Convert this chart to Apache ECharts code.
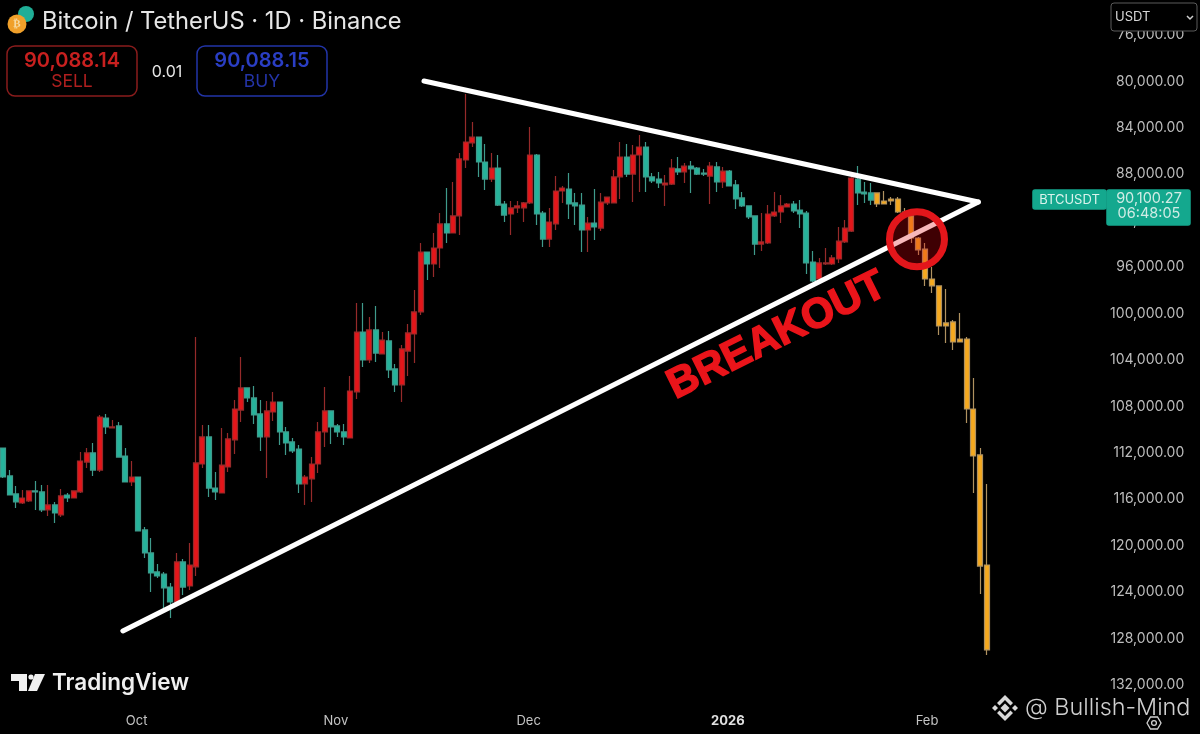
<!DOCTYPE html>
<html><head><meta charset="utf-8">
<style>html,body{margin:0;padding:0;background:#000}#c{width:1200px;height:734px}</style>
<script src="https://cdn.jsdelivr.net/npm/echarts@6/dist/echarts.min.js"></script>
</head><body><div id="c"></div>
<script>
const opens=[111580,113990,115540,116320,116140,115280,115370,116920,116490,117350,115630,115890,115370,112790,112010,113480,109000,109860,109680,112270,114510,114080,118640,120620,122260,122440,123560,124850,121400,123470,121830,112960,110630,115030,115460,113220,110890,108310,106410,107270,108650,110630,108480,107620,110200,111060,111670,114680,114250,112960,110200,108390,109680,110200,110720,106750,101590,104000,101410,103480,102360,104770,106150,103230,101760,99860,94700,95730,94350,92280,93060,91590,86770,85300,84790,86940,88410,87460,90560,91420,90900,90900,90470,86340,91340,93580,92280,89440,89270,90470,90650,92800,92200,92630,90470,90470,88230,86510,87980,86340,85650,88230,88410,88920,88840,87540,87800,87290,87460,87890,88150,87370,88660,87720,88920,90040,90730,91590,94010,93920,91590,91250,90820,90560,91080,91340,95560,97020,95730,95730,95300,93830,92890,88410,89530,89610,89610,90300,90130,90130,91250,91590,93490,94440,97020,97620,100810,100720,102190,102190,108220,112180,121660];
const closes=[114080,115630,116230,115890,115280,115370,116920,116490,117180,115710,115890,115280,112700,112010,113480,108910,109770,109770,112360,114510,114080,118730,120620,122350,122610,123640,124850,121400,123560,121660,112870,110630,115030,115370,113050,110800,108220,106410,107270,108740,110630,108390,107620,110200,111150,111840,114680,114080,112960,110200,108390,109770,110200,110630,106670,101590,104000,101410,103400,102280,104860,106150,103050,101670,99860,94700,95730,94350,92280,93060,91590,86680,85220,84790,86940,88410,87460,90650,91510,90900,90730,90470,86340,91420,93580,92110,89440,89180,90560,90730,92800,92200,92540,90390,89960,88230,86510,87980,86340,85650,88230,88580,88750,88750,87460,87800,87290,87540,87980,87980,87290,88660,87720,89010,90130,90730,91680,94010,93830,91420,91250,90730,90560,91160,91420,95640,97190,95640,95640,95210,93750,92630,88320,89610,89700,90220,90560,90560,90300,91250,91340,93490,94520,97020,97620,101070,101070,102450,102450,108220,112270,121750,128980];
const lows=[111580,113480,114850,115200,115280,114420,114770,114770,116230,115110,115460,115280,111930,111580,111150,108740,108650,109170,109340,111580,112700,114080,118380,119330,121570,122260,123210,120620,121140,119760,102020,109600,109600,113650,109860,110290,107450,103740,106410,106240,107450,107530,106750,107620,109770,110720,111320,113910,112360,109340,106320,108390,109510,109510,105380,99090,99090,100290,99350,101590,101500,104340,102710,100900,97970,93920,94700,93060,91340,89180,88660,86170,81080,83500,84790,85390,86170,86340,90300,90300,90300,90390,83930,86250,91160,90900,88150,89010,87890,89610,89610,91680,89270,89610,89960,87630,85220,85390,85480,84620,85220,87890,87800,88060,86680,86510,87030,86860,87370,87540,86940,86940,87370,87630,88490,89530,90730,91590,91340,90650,89530,89780,90470,90300,90220,91160,94610,95210,94350,94950,92540,91940,88230,87290,88660,88750,89610,89440,89960,89960,90900,91590,93400,93920,95990,97620,97880,100550,99950,102020,105550,111580,114680];
const highs=[114160,115630,116750,116400,116230,116920,117090,117440,118040,117520,116230,115890,115460,113300,113990,113650,110370,109860,112360,114510,114850,118730,121060,123990,122780,125360,126230,124930,124240,123810,122610,113300,115800,116060,115460,113650,112100,109340,107620,109510,111840,114160,109250,111320,112180,112010,115460,116490,116230,113730,111490,111240,110630,111320,110720,107360,104600,104260,104170,103480,105550,106750,107620,105380,104260,100120,97110,96850,96070,93920,93060,93230,87460,85650,88230,89350,88660,90730,92110,93230,91340,92110,90560,92370,94260,94260,92800,90470,91850,92370,94700,94700,93660,92890,90650,90470,90130,88230,90390,89530,89530,88750,89180,90730,88920,88060,88750,89610,88060,88150,90560,89530,89180,89010,90990,90820,91850,94950,94610,94010,91680,92200,90820,91340,92630,96590,97280,97020,95820,95820,95640,93920,92970,90650,90470,90650,90820,90560,90650,91340,91340,93920,94950,97620,98230,101850,102530,103140,102450,109430,115460,124160,129410];
const orangeFrom=136;
const startDate='2025-09-10';
const dayCount=172;
const monthLabels={'2025-10-01':'Oct','2025-11-01':'Nov','2025-12-01':'Dec','2026-01-01':'2026','2026-02-01':'Feb'};
const priceTicks={min:76000,max:132000,step:4000};
const supportLine=[[18.62,127345],[151.74,90390]];
const resistanceLine=[[65.48,79963],[151.74,90390]];
const breakPoint=[[142.2,93600]];

const categories=[];
for(let i=0;i<dayCount;i++){const d=new Date(Date.parse(startDate+'T00:00:00Z')+i*864e5);categories.push(d.toISOString().slice(0,10));}
const rows=opens.map((o,i)=>[o,closes[i],lows[i],highs[i]]);
const mainRows=rows.slice(0,orangeFrom);
const orangeRows=rows.slice(orangeFrom);
const orangeCats=categories.slice(orangeFrom,orangeFrom+orangeRows.length);

const FONT='Inter, "Noto Sans", sans-serif';
const chart=echarts.init(document.getElementById('c'),null,{renderer:'canvas'});
const txt=(x,y,text,size,fill,extra)=>({type:'text',z:50,x,y,style:Object.assign({text,fill,font:`${size}px ${FONT}`,textAlign:'left',textVerticalAlign:'middle'},extra||{})});
const box=(x,y,w,h,r,stroke,fill,lw)=>({type:'rect',z:48,shape:{x,y,width:w,height:h,r},style:{stroke,fill,lineWidth:lw||1.5}});
const poly=(points,fill)=>({type:'polygon',z:50,shape:{points},style:{fill}});
const graphic=[
 {type:'circle',z:47,shape:{cx:26,cy:14,r:8},style:{fill:'#1fae96'}},
 {type:'circle',z:49,shape:{cx:17,cy:24,r:9.5},style:{fill:'#f0a02a'}},
 txt(17,24.5,'₿',11,'#f7d9a0',{textAlign:'center',font:'bold 11px "DejaVu Sans"'}),
 txt(42,22,'Bitcoin / TetherUS · 1D · Binance',23.7,'#e6e6e6'),
 box(7,46,130,50,8,'#8a1c1c','transparent'),
 txt(72,61,'90,088.14',20,'#c8201f',{textAlign:'center',font:`600 20px ${FONT}`}),
 txt(72,82,'SELL',17.5,'#b01f1f',{textAlign:'center'}),
 txt(167,72,'0.01',16,'#e6e6e6',{textAlign:'center'}),
 box(197,46,130,50,8,'#2234a8','transparent'),
 txt(262,61,'90,088.15',20,'#2a3ec4',{textAlign:'center',font:`600 20px ${FONT}`}),
 txt(262,82,'BUY',17.5,'#2434a8',{textAlign:'center'}),
 box(1111,3,86,28,3,'#5a5a5a','#000',1),
 txt(1115,17,'USDT',13,'#d8d8d8'),
 {type:'polyline',z:50,shape:{points:[[1187,16],[1190,19],[1193,16]]},style:{stroke:'#cfcfcf',lineWidth:1.5,fill:null}},
 box(1033,190,73,19,2,'#14a88e','#14a88e',0),
 txt(1069.5,200,'BTCUSDT',13,'#d9f3ec',{textAlign:'center'}),
 box(1107,190,83,35,2,'#14a88e','#14a88e',0),
 txt(1149,199,'90,100.27',14.5,'#d0ece5',{textAlign:'center'}),
 txt(1149,214,'06:48:05',14.5,'#d0ece5',{textAlign:'center'}),
 {type:'text',z:45,x:777,y:336,rotation:0.46,style:{text:'BREAKOUT',fill:'#ea141a',stroke:'#ea141a',lineWidth:1.5,font:'bold 42px "Liberation Sans"',textAlign:'center',textVerticalAlign:'middle'}},
 poly([[11,674],[27,674],[27,691],[19,691],[19,681],[11,681]],'#f0f0f0'),
 {type:'circle',z:50,shape:{cx:31,cy:677,r:2.6},style:{fill:'#f0f0f0'}},
 poly([[35,674],[45,674],[37,691],[28,691]],'#f0f0f0'),
 txt(52,683,'TradingView',22.5,'#f0f0f0',{font:`600 22.5px ${FONT}`}),
 poly([[1005,703.5],[1009.5,708],[1005,712.5],[1000.5,708]],'#d8d8d8'),
 poly([[992,708],[995,705],[998,708],[995,711]],'#d8d8d8'),
 poly([[1012,708],[1015,705],[1018,708],[1015,711]],'#d8d8d8'),
 poly([[1005,695],[1013,703],[1010.5,705.5],[1005,700],[999.5,705.5],[997,703]],'#d8d8d8'),
 poly([[1005,721],[997,713],[999.5,710.5],[1005,716],[1010.5,710.5],[1013,713]],'#d8d8d8'),
 txt(1025,708,'@ Bullish-Mind',23.4,'#cfcfcf',{font:`300 23.4px ${FONT}`}),
 {type:'polygon',z:51,shape:{points:[[1147,723],[1150.5,717],[1157.5,717],[1161,723],[1157.5,729],[1150.5,729]]},style:{stroke:'#d0d0d0',lineWidth:1.3,fill:'transparent'}},
 {type:'circle',z:51,shape:{cx:1154,cy:723,r:2.4},style:{stroke:'#d0d0d0',lineWidth:1.3,fill:'transparent'}}
];
chart.setOption({
 animation:false,backgroundColor:'#000',
 grid:[{left:-3.22,top:35,width:1108.5,height:650,containLabel:false},
       {left:873.55,top:35,width:117.13,height:650,containLabel:false}],
 xAxis:[
  {type:'category',gridIndex:0,data:categories,boundaryGap:true,axisLine:{show:false},axisTick:{show:false},splitLine:{show:false},
   axisLabel:{margin:30,color:'#c4c4c4',fontFamily:FONT,fontSize:13,hideOverlap:false,padding:[0,3,0,0],
    interval:(i,v)=>v in monthLabels,
    formatter:v=>{const s=monthLabels[v]||'';return s==='2026'?`{b|${s}}`:s;},
    rich:{b:{fontWeight:'bold',color:'#e0e0e0',fontSize:13,fontFamily:FONT}}}},
  {type:'value',gridIndex:0,min:-0.5,max:dayCount-0.5,show:false,splitLine:{show:false}},
  {type:'category',gridIndex:1,data:orangeCats,show:false}
 ],
 yAxis:[
  {type:'value',gridIndex:0,inverse:true,position:'right',min:priceTicks.min,max:priceTicks.max,interval:priceTicks.step,
   axisLine:{show:false},axisTick:{show:false},splitLine:{show:false},
   axisLabel:{margin:79,align:'right',color:'#bdbdbd',fontFamily:FONT,fontSize:14,padding:[2,0,0,0],showMinLabel:true,showMaxLabel:true,
    formatter:v=>v.toLocaleString('en-US',{minimumFractionDigits:2,maximumFractionDigits:2})}},
  {type:'value',gridIndex:1,inverse:true,min:priceTicks.min,max:priceTicks.max,show:false,splitLine:{show:false}}
 ],
 series:[
  {name:'BTCUSDT',type:'candlestick',xAxisIndex:0,yAxisIndex:0,data:mainRows,barWidth:5.5,z:2,
   itemStyle:{color:'#26b39b',color0:'#e4161a',borderColor:'#3f9b8c',borderColor0:'#962a2a',borderWidth:1.2}},
  {name:'BTCUSDT flipped',type:'candlestick',xAxisIndex:2,yAxisIndex:1,data:orangeRows,barWidth:5.5,z:2,
   itemStyle:{color:'#f5a91f',color0:'#f5a91f',borderColor:'#b09260',borderColor0:'#b09260',borderWidth:1.2}},
  {name:'Resistance',type:'line',xAxisIndex:1,yAxisIndex:0,data:resistanceLine,symbol:'none',z:5,silent:true,clip:false,lineStyle:{color:'#fff',width:5,cap:'round'}},
  {name:'Support',type:'line',xAxisIndex:1,yAxisIndex:0,data:supportLine,symbol:'none',z:5,silent:true,clip:false,lineStyle:{color:'#fff',width:5,cap:'round'}},
  {name:'Breakout',type:'scatter',xAxisIndex:1,yAxisIndex:0,data:breakPoint,symbol:'circle',symbolSize:55,z:6,silent:true,
   itemStyle:{color:'rgba(225,0,10,0.28)',borderColor:'#e3161b',borderWidth:7,opacity:1}}
 ],
 graphic:{elements:graphic}
});
</script></body></html>
